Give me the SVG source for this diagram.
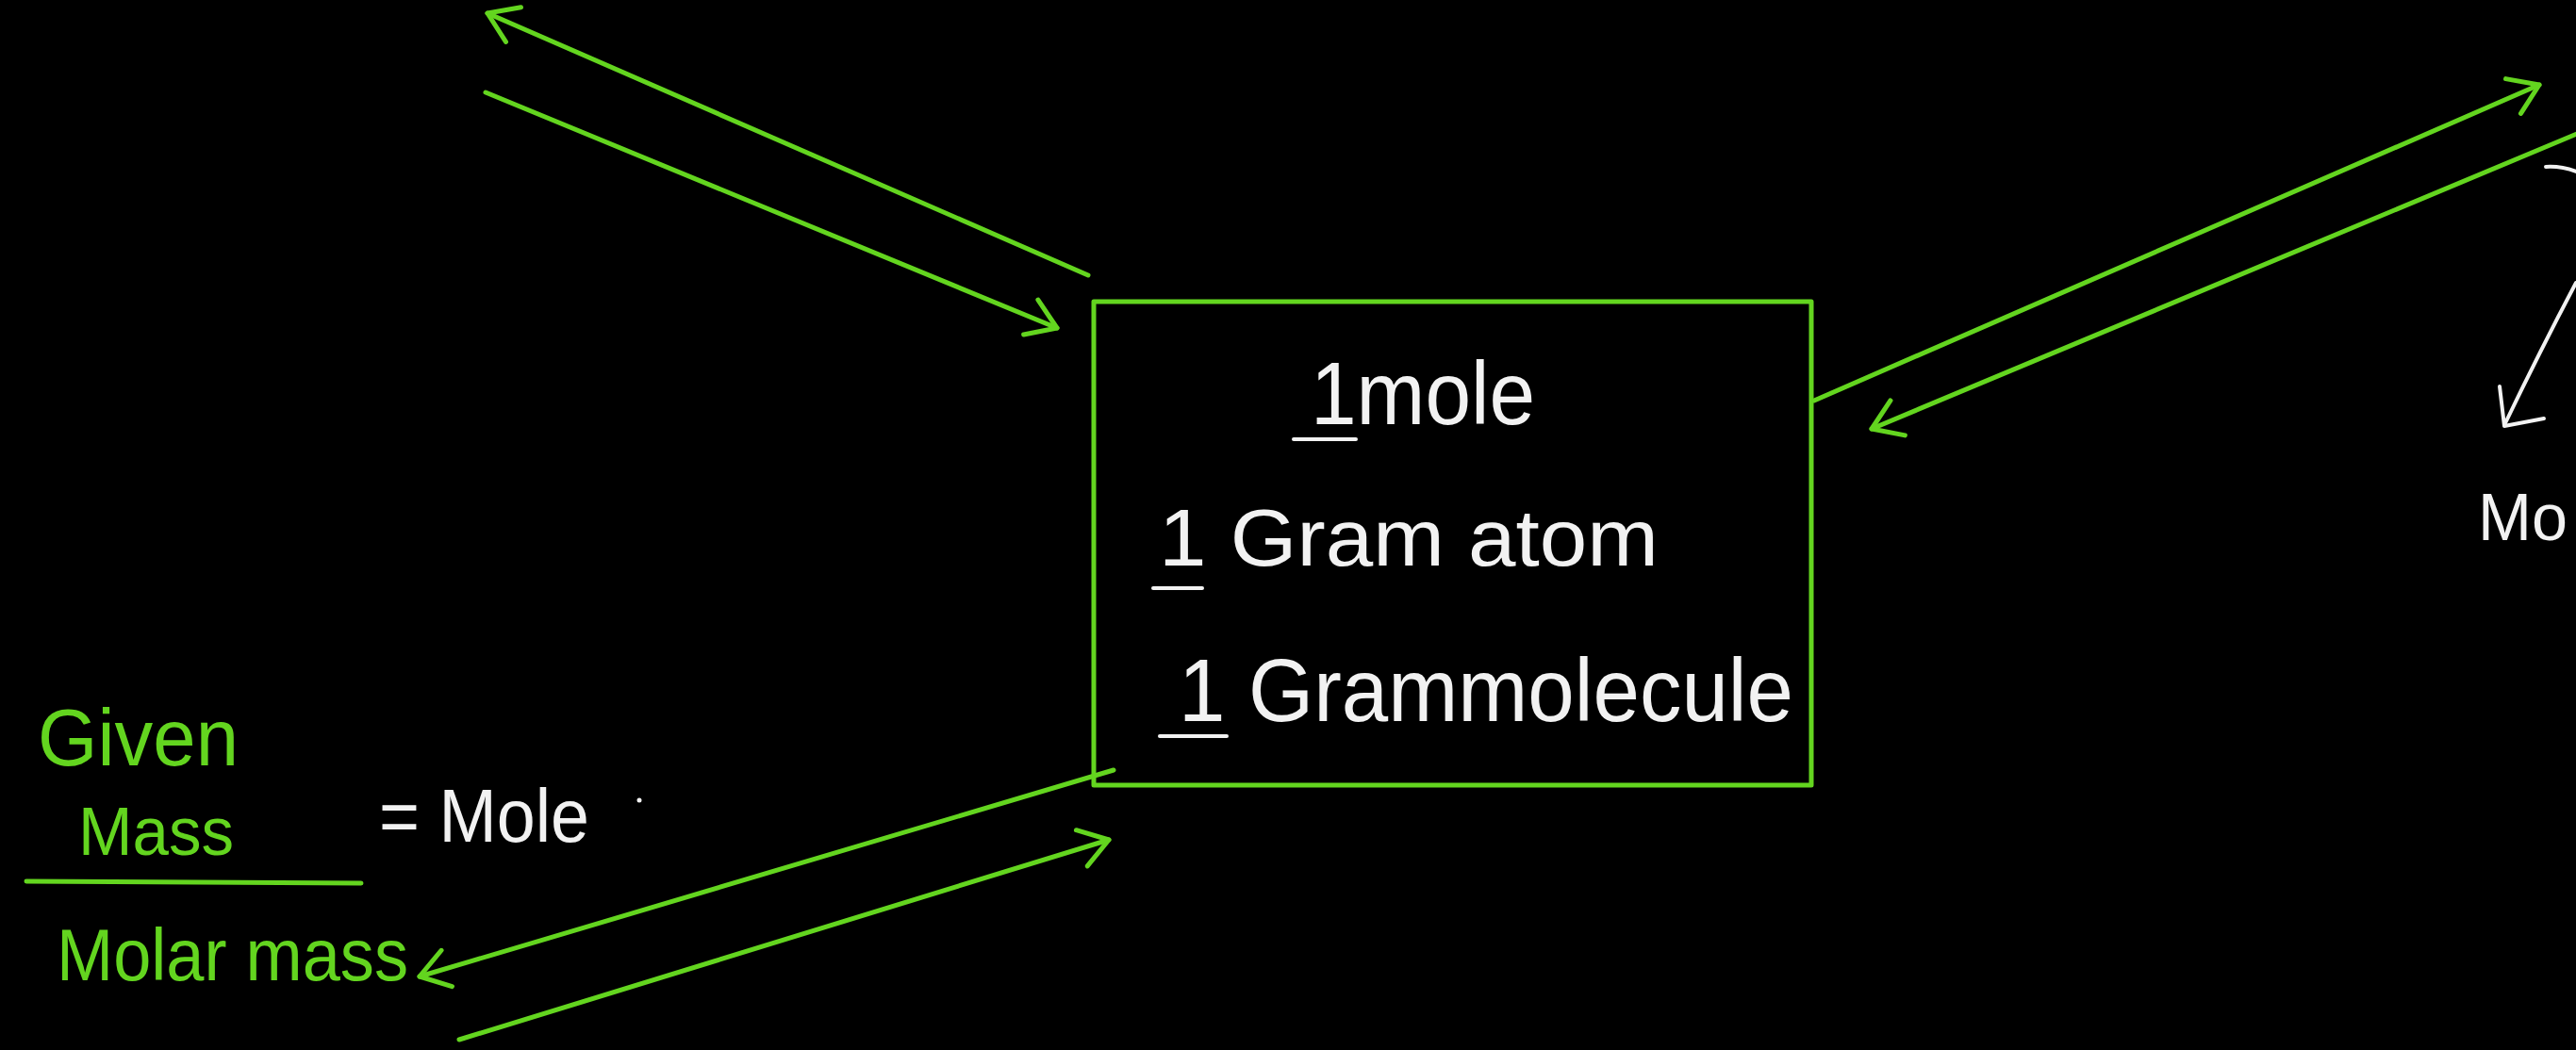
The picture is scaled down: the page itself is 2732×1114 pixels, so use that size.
<svg xmlns="http://www.w3.org/2000/svg" width="2732" height="1114" viewBox="0 0 2732 1114">
<style>
  .g { stroke: #63d51f; stroke-width: 5; fill: none; stroke-linecap: round; stroke-linejoin: round; }
  .w { stroke: #f2f2f2; stroke-width: 4; fill: none; stroke-linecap: round; stroke-linejoin: round; }
  .tw { fill: #f2f2f2; font-family: "Liberation Sans", "DejaVu Sans", sans-serif; }
  .tg { fill: #63d51f; font-family: "Liberation Sans", "DejaVu Sans", sans-serif; }
</style>
<defs>
  <marker id="arr" viewBox="-40 -28 46 56" refX="0" refY="0" markerWidth="46" markerHeight="56" markerUnits="userSpaceOnUse" orient="auto">
    <path d="M -30 -20 L 0 0 L -30 20" fill="none" stroke="#63d51f" stroke-width="5" stroke-linecap="round" stroke-linejoin="round"/>
  </marker>
</defs>
<rect x="0" y="0" width="2732" height="1114" fill="#000"/>

<g id="box">
  <rect class="g" x="1160" y="320" width="761" height="513" stroke-width="4.5"/>
  <text class="tw" x="1390" y="450" font-size="95" textLength="238" lengthAdjust="spacingAndGlyphs">1mole</text>
  <line class="w" x1="1372" y1="466" x2="1438" y2="466"/>
  <text class="tw" x="1229" y="600" font-size="85" textLength="530" lengthAdjust="spacingAndGlyphs">1 Gram atom</text>
  <line class="w" x1="1223" y1="624" x2="1275" y2="624"/>
  <text class="tw" x="1250" y="765" font-size="95" textLength="652" lengthAdjust="spacingAndGlyphs">1 Grammolecule</text>
  <line class="w" x1="1230" y1="781" x2="1301" y2="781"/>
</g>

<g id="formula">
  <text class="tg" x="40" y="812" font-size="85" textLength="213" lengthAdjust="spacingAndGlyphs">Given</text>
  <text class="tg" x="83" y="907" font-size="72" textLength="165" lengthAdjust="spacingAndGlyphs">Mass</text>
  <line class="g" x1="28" y1="935" x2="383" y2="937"/>
  <text class="tg" x="60" y="1040" font-size="78" textLength="373" lengthAdjust="spacingAndGlyphs">Molar mass</text>
</g>

<g id="equals-mole">
  <text class="tw" x="402" y="893" font-size="80" textLength="223" lengthAdjust="spacingAndGlyphs">= Mole</text>
  <circle cx="678" cy="849" r="2.5" fill="#f2f2f2"/>
</g>

<g id="right-label">
  <path class="w" d="M 2700 177 Q 2716 176 2732 182"/>
  <path class="w" d="M 2732 300 Q 2695 370 2656 451"/>
  <polyline class="w" points="2651,410 2656,452 2698,444"/>
  <text class="tw" x="2628" y="573" font-size="70" textLength="95" lengthAdjust="spacingAndGlyphs">Mo</text>
</g>

<g id="connectors">
  <line class="g" x1="1154" y1="292" x2="517" y2="14" marker-end="url(#arr)"/>
  <line class="g" x1="515" y1="98" x2="1121" y2="348" marker-end="url(#arr)"/>
  <line class="g" x1="1924" y1="425" x2="2693" y2="90" marker-end="url(#arr)"/>
  <line class="g" x1="2740" y1="139" x2="1985" y2="455" marker-end="url(#arr)"/>
  <line class="g" x1="1181" y1="817" x2="445" y2="1036" marker-end="url(#arr)"/>
  <line class="g" x1="487" y1="1103" x2="1176" y2="891" marker-end="url(#arr)"/>
</g>
</svg>
